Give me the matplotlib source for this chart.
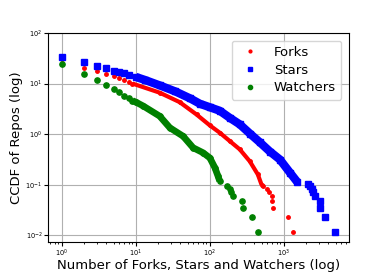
import numpy as np
import matplotlib
matplotlib.use("Agg")
import matplotlib.pyplot as plt

# CCDF (%), dense part then sparse tail
forks_x = [1, 2, 3, 4, 5, 6, 7, 8, 9, 21, 39, 66, 100, 136, 186, 254, 347, 445, 500]
forks_y = [31, 20.5, 17.6, 15.3, 13.8, 12.6, 11.5, 10.7, 10.0, 6.6, 4.3, 2.45, 1.49, 1.07, 0.73, 0.50, 0.29, 0.16, 0.10]
forks_tail_x = [515, 600, 633, 682, 700, 710, 1143, 1311]
forks_tail_y = [0.094, 0.082, 0.071, 0.059, 0.047, 0.035, 0.0235, 0.0118]

stars_x = [1, 2, 3, 4, 5, 6, 7, 8, 10, 13.2, 21, 34, 54, 73, 100, 136, 186, 254, 347, 474, 646, 883, 1205, 1500]
stars_y = [33.2, 26.1, 22.5, 19.9, 17.9, 16.8, 16.1, 14.9, 13.5, 11.8, 9.2, 7.0, 5.1, 4.0, 3.4, 2.9, 2.1, 1.56, 1.03, 0.69, 0.455, 0.316, 0.175, 0.116]
stars_tail_x = [2110, 2250, 2390, 2500, 2630, 3060, 3060, 3580, 4890]
stars_tail_y = [0.106, 0.094, 0.082, 0.071, 0.059, 0.047, 0.035, 0.0235, 0.0118]

watchers_x = [1, 2, 3, 4, 5, 6, 7, 8, 9, 10, 12.6, 21, 28.8, 43.6, 59.4, 81, 100, 117, 129, 136]
watchers_y = [24.6, 15.3, 11.7, 9.2, 7.9, 6.7, 5.8, 5.1, 4.6, 4.3, 3.6, 2.27, 1.34, 0.91, 0.54, 0.43, 0.34, 0.217, 0.148, 0.118]
watchers_tail_x = [168, 185, 196, 207, 268, 282, 373, 441]
watchers_tail_y = [0.094, 0.082, 0.071, 0.059, 0.047, 0.035, 0.0235, 0.0118]

fig = plt.figure(figsize=(3.87, 2.72), dpi=100)
ax = fig.add_axes([0.124, 0.110, 0.778, 0.769])

series = [
    ("Forks", forks_x, forks_y, forks_tail_x, forks_tail_y, "red", ".", 5, 3),
    ("Stars", stars_x, stars_y, stars_tail_x, stars_tail_y, "blue", "s", 4.2, 6),
    ("Watchers", watchers_x, watchers_y, watchers_tail_x, watchers_tail_y, "green", "o", 3.8, 4.8),
]

for name, x, y, tx, ty, col, mk, ms, lw in series:
    # dense band: the original points overlap into a thick line
    ax.plot(x[8:], y[8:], "-", color=col, lw=lw, solid_capstyle="butt")
    ax.plot(x + tx, y + ty, mk, color=col, ms=ms, ls="none", label=name)

ax.set_xscale("log")
ax.set_yscale("log")
ax.set_xlim(0.65, 7600)
ax.set_ylim(0.0074, 100)
ax.grid(True, which="major", color="#b0b0b0", lw=0.8)
ax.tick_params(labelsize=4.8, length=3, width=0.8, pad=1)
ax.tick_params(which="minor", length=1.5, width=0.6)
ax.yaxis.set_minor_locator(matplotlib.ticker.NullLocator())

ax.set_xlabel("Number of Forks, Stars and Watchers (log)", fontsize=9.5)
ax.xaxis.set_label_coords(0.5, -0.082)
ax.set_ylabel("CCDF of Repos (log)", fontsize=9.5, labelpad=2)
ax.legend(loc="upper right", fontsize=9.5, numpoints=1, markerscale=0.8,
          labelspacing=0.35, borderaxespad=0.6)

fig.savefig("out.png", dpi=100)
